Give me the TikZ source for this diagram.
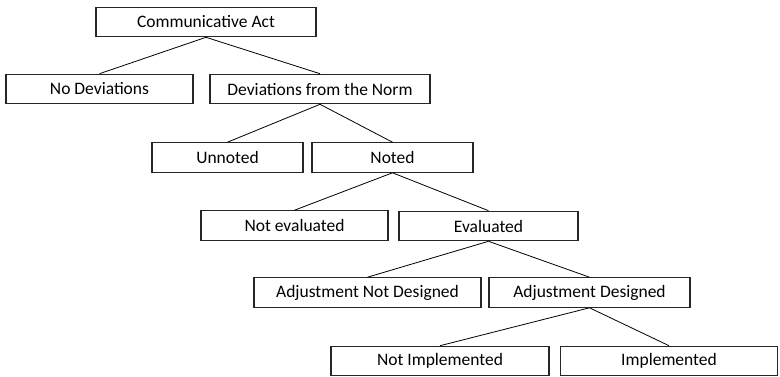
\documentclass[tikz,border=0pt]{standalone}
\usepackage{fontspec}
\setmainfont{Carlito}
\usepackage{tikz}
\usetikzlibrary{positioning}

\begin{document}
\begin{tikzpicture}[x=1pt, y=-1pt,
    box/.style={draw=black!85, line width=1.1pt, rectangle, inner sep=0pt, minimum height=29.5pt, font=\fontsize{17.5}{20}\selectfont},
    link/.style={black, line width=0.8pt}]
    \useasboundingbox (0,0) rectangle (780,377);

    % Top level
    \node[box, minimum width=220pt] (act) at (206,22) {Communicative Act};

    % Second level
    \node[box, minimum width=187pt] (nodev) at (99.5,89) {No Deviations};
    \node[box, minimum width=220pt] (dev) at (320,89) {Deviations from the Norm};

    % Third level
    \node[box, minimum width=151pt] (unnoted) at (227.5,157.5) {Unnoted};
    \node[box, minimum width=161pt] (noted) at (392.5,157.5) {Noted};

    % Fourth level
    \node[box, minimum width=187pt] (noteval) at (294.5,225.5) {Not evaluated};
    \node[box, minimum width=179pt] (eval) at (488.5,226) {Evaluated};

    % Fifth level
    \node[box, minimum width=227pt] (adjnot) at (367.5,292.5) {Adjustment Not Designed};
    \node[box, minimum width=201pt] (adj) at (589.5,292.5) {Adjustment Designed};

    % Sixth level
    \node[box, minimum width=218pt] (notimpl) at (440,361) {Not Implemented};
    \node[box, minimum width=217pt] (impl) at (669,361) {Implemented};

    % Branches from each parent to its two children
    \foreach \p/\c in {act/nodev, act/dev, dev/unnoted, dev/noted, noted/noteval, noted/eval, eval/adjnot, eval/adj, adj/notimpl, adj/impl}
        \draw[link] (\p.south) -- (\c.north);
\end{tikzpicture}
\end{document}
